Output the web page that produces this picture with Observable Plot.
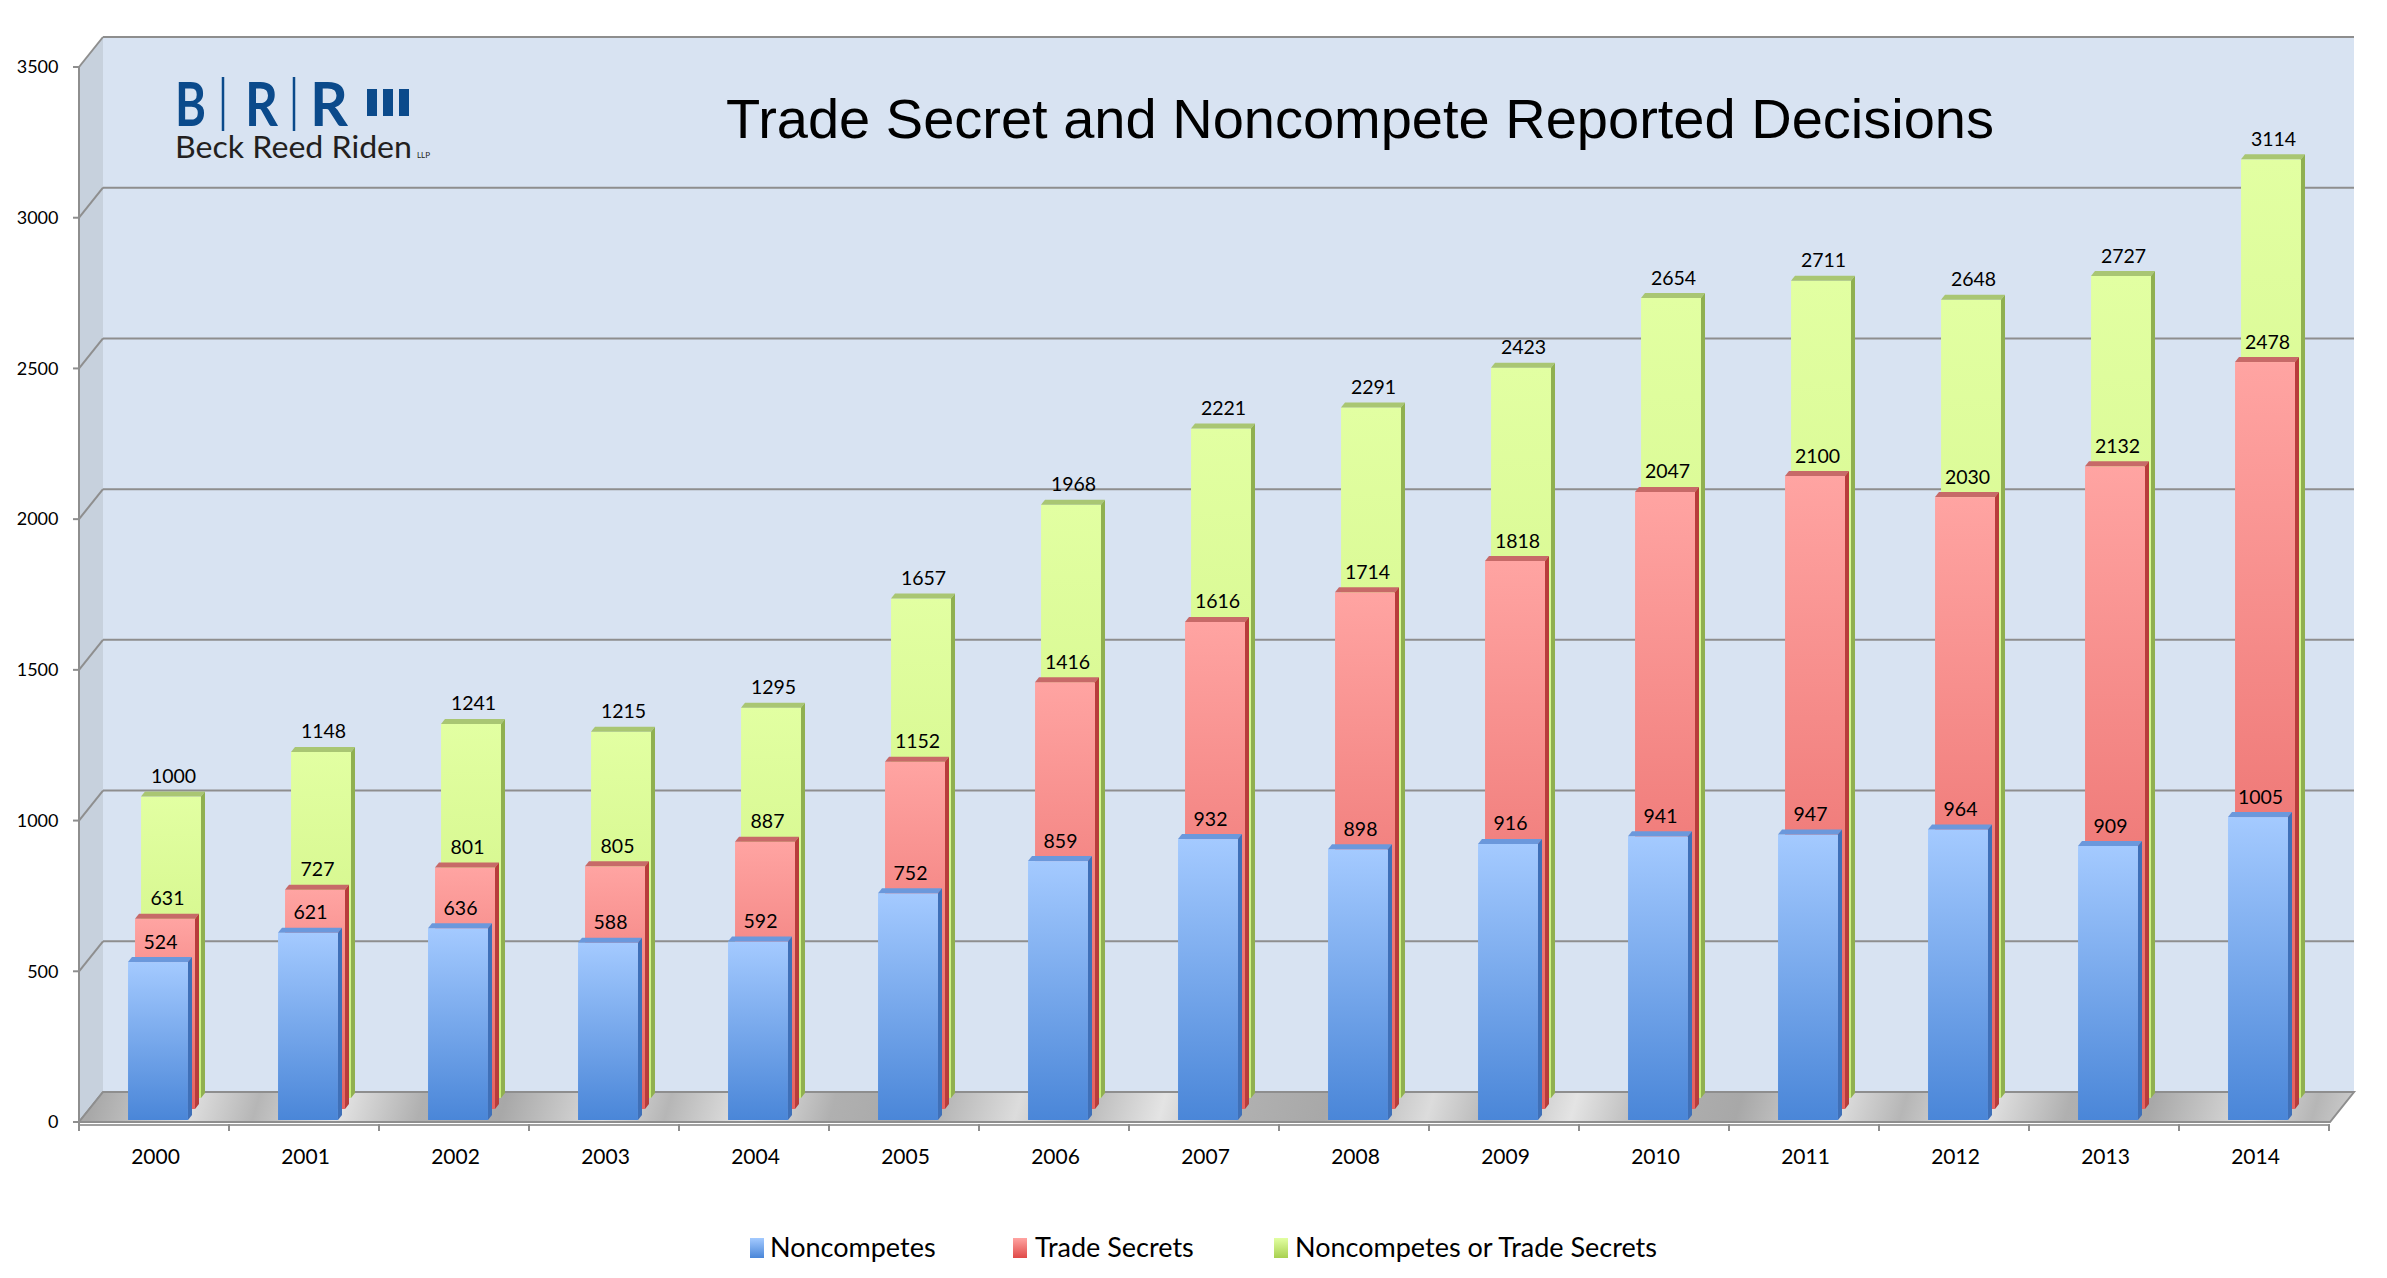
<!DOCTYPE html>
<html>
<head>
<meta charset="utf-8">
<script src="https://cdn.jsdelivr.net/npm/d3@7"></script>
<script src="https://cdn.jsdelivr.net/npm/@observablehq/plot@0.6"></script>
<style>
  html, body { margin: 0; padding: 0; background: #ffffff; overflow: hidden; }
  #wrap { position: relative; width: 2387px; height: 1200px; }
  #overlay { position: absolute; left: 0; top: 0; pointer-events: none; }
  #legend { position: relative; width: 2387px; height: 78px; font-family: Lato, "Open Sans", sans-serif; font-size: 27px; color: #000; }
  .sw { position: absolute; top: 38px; width: 14px; height: 20px; }
  .lt { position: absolute; top: 30px; line-height: 34px; white-space: nowrap; }
</style>
</head>
<body>
<svg width="0" height="0" style="position:absolute">
  <defs>
    <linearGradient id="gBlue" x1="0" y1="0" x2="0" y2="1">
      <stop offset="0" stop-color="#a4caff"/>
      <stop offset="1" stop-color="#4a86d8"/>
    </linearGradient>
    <linearGradient id="gRed" x1="0" y1="0" x2="0" y2="1">
      <stop offset="0" stop-color="#ffa4a2"/>
      <stop offset="1" stop-color="#e5605e"/>
    </linearGradient>
    <linearGradient id="gGreen" x1="0" y1="0" x2="0" y2="1">
      <stop offset="0" stop-color="#e2ffa2"/>
      <stop offset="1" stop-color="#c9ee7a"/>
    </linearGradient>
    <linearGradient id="gFloor" gradientUnits="userSpaceOnUse" x1="0" y1="0" x2="380" y2="110" spreadMethod="repeat">
      <stop offset="0" stop-color="#a8a8a8"/>
      <stop offset="0.25" stop-color="#dcdcdc"/>
      <stop offset="0.4" stop-color="#b6b6b6"/>
      <stop offset="0.6" stop-color="#e4e4e4"/>
      <stop offset="0.8" stop-color="#b0b0b0"/>
      <stop offset="1" stop-color="#a8a8a8"/>
    </linearGradient>
  </defs>
</svg>

<div id="wrap">
  <div id="chart"></div>
  <svg id="overlay" width="2387" height="200">
    <text y="126" fill="#0b4a8b" font-family="Lato, 'Open Sans', sans-serif" font-size="62" font-weight="bold">
      <tspan x="175" textLength="31" lengthAdjust="spacingAndGlyphs">B</tspan><tspan x="245" textLength="33" lengthAdjust="spacingAndGlyphs">R</tspan><tspan x="310" textLength="38" lengthAdjust="spacingAndGlyphs">R</tspan>
    </text>
    <g stroke="#0b4a8b" stroke-width="2.5">
      <line x1="223" y1="77" x2="223" y2="131"/>
      <line x1="294" y1="77" x2="294" y2="131"/>
    </g>
    <g fill="#0b4a8b">
      <rect x="367" y="89" width="10" height="27"/>
      <rect x="383" y="89" width="10" height="27"/>
      <rect x="399" y="89" width="10" height="27"/>
    </g>
    <text y="158" fill="#231f20" font-family="Lato, 'Open Sans', sans-serif"><tspan x="175" font-size="31" textLength="237" lengthAdjust="spacingAndGlyphs">Beck Reed Riden</tspan><tspan x="417" font-size="8">LLP</tspan></text>
    <text x="1360" y="138" text-anchor="middle" fill="#000" font-family="'Liberation Sans', Arial, sans-serif" font-size="56">Trade Secret and Noncompete Reported Decisions</text>
  </svg>
</div>
<div id="legend"></div>

<script>
// ---- Data ----
const years = ["2000","2001","2002","2003","2004","2005","2006","2007","2008","2009","2010","2011","2012","2013","2014"];
const noncompetes = [524, 621, 636, 588, 592, 752, 859, 932, 898, 916, 941, 947, 964, 909, 1005];
const tradeSecrets = [631, 727, 801, 805, 887, 1152, 1416, 1616, 1714, 1818, 2047, 2100, 2030, 2132, 2478];
const either = [1000, 1148, 1241, 1215, 1295, 1657, 1968, 2221, 2291, 2423, 2654, 2711, 2648, 2727, 3114];
const yTicks = [0, 500, 1000, 1500, 2000, 2500, 3000, 3500];
const seriesNames = ["Noncompetes", "Trade Secrets", "Noncompetes or Trade Secrets"];

const toRows = (vals) => years.map((year, i) => ({year, value: vals[i]}));
const blueRows = toRows(noncompetes);
const redRows = toRows(tradeSecrets);
const greenRows = toRows(either);

// ---- Geometry (styling) ----
const W = 2387, H = 1200;
const ML = 79, MR = 57, MT = 67, MB = 78;
const DEPTH_X = 24, DEPTH_Y = -30;   // back wall offset
const BAR_W = 60;
const bandW = (W - ML - MR) / years.length;
const sideInset = (bandW - BAR_W) / 2;
const S = {
  blue:  {dx: 3,  dy: -2,  fill: "url(#gBlue)",  top: "#6b98dc", side: "#3f70b8"},
  red:   {dx: 10, dy: -13, fill: "url(#gRed)",   top: "#c76a68", side: "#b83c3b"},
  green: {dx: 16, dy: -24, fill: "url(#gGreen)", top: "#a9c673", side: "#90b050"}
};

function bandwidthOf(scales, dims) {
  return (scales.x && scales.x.bandwidth) ? scales.x.bandwidth() : (dims.width - dims.marginLeft - dims.marginRight) / years.length;
}

// 3D scaffold: back wall, side wall, floor, gridlines, axis lines & ticks
function scaffold(index, scales, values, dims) {
  const y = scales.y;
  const x0 = dims.marginLeft, x1 = dims.width - dims.marginRight;
  const yb = y(0), yt = y(3500);
  const bw = bandwidthOf(scales, dims);
  const g = d3.create("svg:g");
  g.append("rect").attr("x", x0 + DEPTH_X).attr("y", yt + DEPTH_Y)
    .attr("width", x1 - x0).attr("height", yb - yt).attr("fill", "#d8e3f2");
  g.append("polygon").attr("points", [[x0, yt], [x0 + DEPTH_X, yt + DEPTH_Y], [x0 + DEPTH_X, yb + DEPTH_Y], [x0, yb]].map(p => p.join(",")).join(" "))
    .attr("fill", "#c7d1dd");
  for (const t of yTicks) {
    const yy = y(t);
    g.append("line").attr("x1", x0 + DEPTH_X).attr("x2", x1 + DEPTH_X).attr("y1", yy + DEPTH_Y).attr("y2", yy + DEPTH_Y)
      .attr("stroke", "#8e8e8e").attr("stroke-width", 2);
    g.append("line").attr("x1", x0).attr("x2", x0 + DEPTH_X).attr("y1", yy).attr("y2", yy + DEPTH_Y)
      .attr("stroke", "#8e8e8e").attr("stroke-width", 2);
    g.append("line").attr("x1", x0 - 6).attr("x2", x0).attr("y1", yy).attr("y2", yy)
      .attr("stroke", "#8e8e8e").attr("stroke-width", 2);
  }
  g.append("polygon").attr("points", [[x0, yb], [x1, yb], [x1 + DEPTH_X, yb + DEPTH_Y], [x0 + DEPTH_X, yb + DEPTH_Y]].map(p => p.join(",")).join(" "))
    .attr("fill", "url(#gFloor)").attr("stroke", "#8e8e8e").attr("stroke-width", 2);
  g.append("line").attr("x1", x0).attr("x2", x1).attr("y1", yb + 3).attr("y2", yb + 3)
    .attr("stroke", "#a0a0a0").attr("stroke-width", 2);
  g.append("line").attr("x1", x0).attr("x2", x0).attr("y1", yt).attr("y2", yb + 4)
    .attr("stroke", "#8e8e8e").attr("stroke-width", 2);
  for (let i = 0; i <= years.length; i++) {
    const xx = x0 + i * bw;
    g.append("line").attr("x1", xx).attr("x2", xx).attr("y1", yb + 2).attr("y2", yb + 9)
      .attr("stroke", "#8e8e8e").attr("stroke-width", 2);
  }
  return g.node();
}

// top and right side faces for a bar series
function faces(rows, st) {
  return (index, scales, values, dims) => {
    const bw = bandwidthOf(scales, dims);
    const inL = (bw - BAR_W) / 2 + st.dx;
    const g = d3.create("svg:g");
    for (const r of rows) {
      const bx = scales.x(r.year) + inL;
      const top = scales.y(r.value) + st.dy;
      const bot = scales.y(0) + st.dy;
      const ddx = 4, ddy = -5;
      g.append("polygon").attr("points", [[bx, top], [bx + BAR_W, top], [bx + BAR_W + ddx, top + ddy], [bx + ddx, top + ddy]].map(p => p.join(",")).join(" "))
        .attr("fill", st.top);
      g.append("polygon").attr("points", [[bx + BAR_W, top], [bx + BAR_W + ddx, top + ddy], [bx + BAR_W + ddx, bot + ddy], [bx + BAR_W, bot]].map(p => p.join(",")).join(" "))
        .attr("fill", st.side);
    }
    return g.node();
  };
}

function bars(rows, st) {
  return Plot.barY(rows, {
    x: "year", y: "value", fill: st.fill,
    insetLeft: sideInset + st.dx, insetRight: sideInset - st.dx, dy: st.dy
  });
}

function labels(rows, st) {
  return Plot.text(rows, {
    x: "year", y: "value", text: d => String(d.value),
    dx: st.dx + 2, dy: st.dy - 14, lineAnchor: "bottom", textAnchor: "middle",
    fontSize: 19.5, fill: "#000", fontFamily: "Lato, 'Open Sans', sans-serif"
  });
}

const chart = Plot.plot({
  width: W, height: H,
  marginLeft: ML, marginRight: MR, marginTop: MT, marginBottom: MB,
  style: {background: "transparent", fontFamily: "Lato, 'Open Sans', sans-serif", overflow: "visible"},
  x: {type: "band", domain: years, padding: 0, axis: null, label: null},
  y: {type: "linear", domain: [0, 3500], axis: null, label: null},
  marks: [
    scaffold,
    bars(greenRows, S.green), faces(greenRows, S.green),
    bars(redRows, S.red), faces(redRows, S.red),
    bars(blueRows, S.blue), faces(blueRows, S.blue),
    labels(greenRows, S.green),
    labels(redRows, S.red),
    labels(blueRows, S.blue),
    Plot.text(years, {x: d => d, text: d => d, frameAnchor: "bottom", dy: 35, lineAnchor: "middle", textAnchor: "middle", fontSize: 21, fill: "#000"}),
    Plot.text(yTicks, {y: d => d, text: d => String(d), frameAnchor: "left", dx: -21, textAnchor: "end", lineAnchor: "middle", fontSize: 18, fill: "#000"})
  ]
});
document.getElementById("chart").appendChild(chart);

// ---- Legend ----
const legendItems = [
  {name: seriesNames[0], fill: "linear-gradient(#a4caff, #4a86d8)", sw: 750, tx: 770},
  {name: seriesNames[1], fill: "linear-gradient(#ffa4a2, #e04a48)", sw: 1013, tx: 1035},
  {name: seriesNames[2], fill: "linear-gradient(#e2ffa2, #a8d050)", sw: 1274, tx: 1295}
];
const legend = d3.select("#legend");
for (const it of legendItems) {
  legend.append("div").attr("class", "sw").style("left", it.sw + "px").style("background", it.fill);
  legend.append("div").attr("class", "lt").style("left", it.tx + "px").text(it.name);
}
</script>
</body>
</html>
